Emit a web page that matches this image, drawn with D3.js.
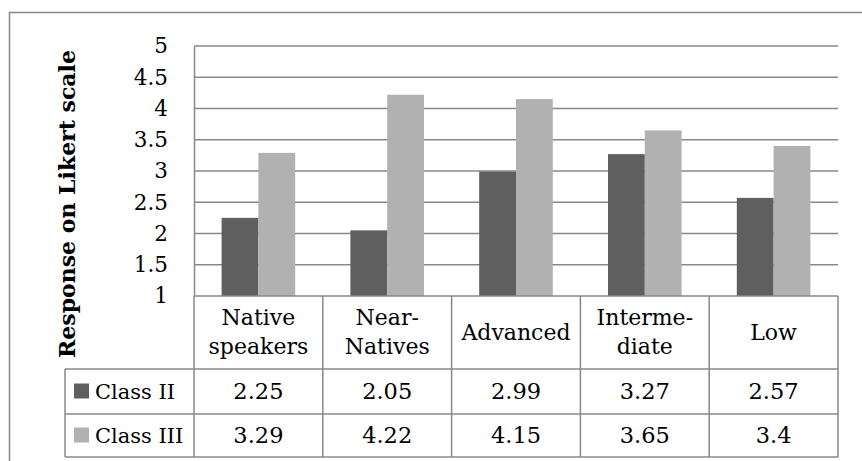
<!DOCTYPE html>
<html>
<head>
<meta charset="utf-8">
<script src="https://cdn.jsdelivr.net/npm/d3@7"></script>
<style>
  body { margin: 0; background: #fff; }
  svg { display: block; }
</style>
</head>
<body>
<div id="chart"></div>
<script>
// grouped bars with a data table under the x axis

const categories = ["Native speakers", "Near-Natives", "Advanced", "Intermediate", "Low"];
const categoryLines = [["Native", "speakers"], ["Near-", "Natives"], ["Advanced"], ["Interme-", "diate"], ["Low"]];
const seriesNames = ["Class II", "Class III"];
const classII = [2.25, 2.05, 2.99, 3.27, 2.57];
const classIII = [3.29, 4.22, 4.15, 3.65, 3.4];
const tableLabels = [["2.25", "2.05", "2.99", "3.27", "2.57"], ["3.29", "4.22", "4.15", "3.65", "3.4"]];
const yTicks = [1, 1.5, 2, 2.5, 3, 3.5, 4, 4.5, 5];

const width = 862, height = 461;
const font = "'DejaVu Serif', 'Liberation Serif', serif";
const colors = ["#5f5f5f", "#b1b1b1"];
const lineColor = "#888888";

const plot = {left: 194, right: 838, top: 46, bottom: 296};
const legendLeft = 65;
const rowBottoms = [369, 414, 457];

const svg = d3.select("#chart").append("svg")
    .attr("width", width)
    .attr("height", height);

// outer frame (runs off the right and bottom of the picture)
svg.append("rect")
    .attr("x", 9.5).attr("y", 12.5)
    .attr("width", 870).attr("height", 470)
    .attr("fill", "none")
    .attr("stroke", lineColor)
    .attr("stroke-width", 1.5);

const x0 = d3.scaleBand()
    .domain(categories)
    .range([plot.left, plot.right])
    .padding(0);

const x1 = d3.scaleBand()
    .domain(seriesNames)
    .range([0, x0.bandwidth()])
    .paddingInner(0)
    .paddingOuter(0.75);

const y = d3.scaleLinear()
    .domain([1, 5])
    .range([plot.bottom, plot.top]);

// gridlines
svg.append("g")
    .selectAll("line")
    .data(yTicks.slice(1))
    .join("line")
    .attr("x1", plot.left).attr("x2", plot.right)
    .attr("y1", d => y(d)).attr("y2", d => y(d))
    .attr("stroke", lineColor)
    .attr("stroke-width", 1.5);

// y axis with labels
const yAxis = g => g
    .attr("transform", `translate(${plot.left},0)`)
    .call(d3.axisLeft(y).tickValues(yTicks).tickSize(0).tickPadding(26).tickFormat(d3.format("")))
    .call(g => g.select(".domain").attr("stroke", lineColor).attr("stroke-width", 1.5))
    .call(g => g.selectAll("text")
        .attr("font-family", font)
        .attr("font-size", "21.5px")
        .attr("fill", "#000"));
svg.append("g").call(yAxis);

// bars
const values = [classII, classIII];
svg.append("g")
    .selectAll("g")
    .data(seriesNames)
    .join("g")
    .attr("fill", (d, i) => colors[i])
    .selectAll("rect")
    .data((s, si) => categories.map((c, ci) => ({cat: c, series: s, value: values[si][ci]})))
    .join("rect")
    .attr("x", d => x0(d.cat) + x1(d.series))
    .attr("y", d => y(d.value))
    .attr("width", x1.bandwidth())
    .attr("height", d => y(1) - y(d.value));

// data table lines
const table = svg.append("g")
    .attr("stroke", lineColor)
    .attr("stroke-width", 1.5);

table.append("line")
    .attr("x1", plot.left).attr("x2", plot.right)
    .attr("y1", plot.bottom).attr("y2", plot.bottom);

table.selectAll(".hline")
    .data(rowBottoms)
    .join("line")
    .attr("class", "hline")
    .attr("x1", legendLeft).attr("x2", plot.right)
    .attr("y1", d => d).attr("y2", d => d);

table.selectAll(".vline")
    .data(categories.map(c => x0(c)).concat([plot.right]))
    .join("line")
    .attr("class", "vline")
    .attr("x1", d => d).attr("x2", d => d)
    .attr("y1", plot.bottom).attr("y2", rowBottoms[2]);

table.append("line")
    .attr("x1", legendLeft).attr("x2", legendLeft)
    .attr("y1", rowBottoms[0]).attr("y2", rowBottoms[2]);

// category headers
const lineH = 29;
const headerMid = (plot.bottom + rowBottoms[0]) / 2;
svg.append("g")
    .selectAll("text")
    .data(categories)
    .join("text")
    .attr("x", d => x0(d) + x0.bandwidth() / 2)
    .attr("y", headerMid)
    .attr("text-anchor", "middle")
    .attr("font-family", font)
    .attr("font-size", "22px")
    .attr("fill", "#000")
    .each(function(d, i) {
        const lines = categoryLines[i];
        const start = -(lines.length - 1) / 2 * lineH;
        d3.select(this).selectAll("tspan")
            .data(lines)
            .join("tspan")
            .attr("x", x0(d) + x0.bandwidth() / 2)
            .attr("dy", (l, j) => j === 0 ? start + 7 : lineH)
            .text(l => l);
    });

// table rows: legend key + values
seriesNames.forEach((s, si) => {
    const top = rowBottoms[si], bottom = rowBottoms[si + 1];
    const mid = (top + bottom) / 2;
    svg.append("rect")
        .attr("x", 74).attr("y", mid - 8)
        .attr("width", 15).attr("height", 15)
        .attr("fill", colors[si]);
    svg.append("text")
        .attr("x", 95).attr("y", mid + 7)
        .attr("font-family", font)
        .attr("font-size", "21px")
        .attr("fill", "#000")
        .text(s);
    svg.append("g")
        .selectAll("text")
        .data(categories)
        .join("text")
        .attr("x", d => x0(d) + x0.bandwidth() / 2)
        .attr("y", mid + 7)
        .attr("text-anchor", "middle")
        .attr("font-family", font)
        .attr("font-size", "22.5px")
        .attr("fill", "#000")
        .text((d, ci) => tableLabels[si][ci]);
});

// y axis title
svg.append("text")
    .attr("transform", "translate(75,204) rotate(-90)")
    .attr("text-anchor", "middle")
    .attr("font-family", font)
    .attr("font-weight", "bold")
    .attr("font-size", "22px")
    .attr("fill", "#000")
    .text("Response on Likert scale");
</script>
</body>
</html>
